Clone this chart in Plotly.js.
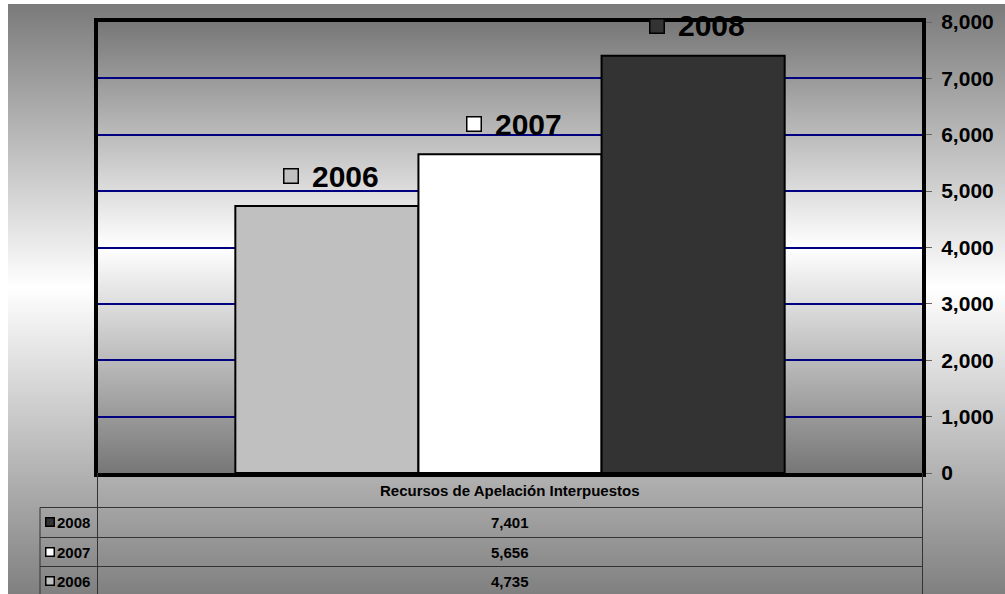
<!DOCTYPE html>
<html>
<head>
<meta charset="utf-8">
<script src="https://cdn.plot.ly/plotly-3.0.1.min.js"></script>
<style>
  html, body { margin:0; padding:0; background:#ffffff; }
  #bgOuter { position:absolute; left:8px; top:4px; width:997px; height:590px;
    background:linear-gradient(to bottom, #7a7a7a 0%, #ffffff 48%, #808080 100%); }
  #bgPlot { position:absolute; left:98px; top:22px; width:824px; height:451px;
    background:linear-gradient(to bottom, #777777 0%, #ffffff 50%, #777777 100%); }
  #chart { position:absolute; left:0; top:0; width:1005px; height:594px; }
</style>
</head>
<body>
<div id="bgOuter"></div>
<div id="bgPlot"></div>
<div id="chart"></div>
<script>
// ---- data ----
const categories = ['Recursos de Apelación Interpuestos'];
const seriesNames = ['2006', '2007', '2008'];
const values2006 = [4735];
const values2007 = [5656];
const values2008 = [7401];
const yTickValues = [0, 1000, 2000, 3000, 4000, 5000, 6000, 7000, 8000];

// ---- styles ----
const seriesValues = [values2006, values2007, values2008];
const seriesColors = ['#c0c0c0', '#ffffff', '#333333'];
const FONT = 'Liberation Sans, Arial, Helvetica, sans-serif';
const W = 1005, H = 594, M = {l: 98, r: 83, t: 22, b: 121};
const plotW = W - M.l - M.r, plotH = H - M.t - M.b;
const px2x = px => (px - M.l) / plotW;
const py2y = py => (H - M.b - py) / plotH;
const bargap = 1/3;

const traces = seriesNames.map((name, j) => ({
  type: 'bar',
  name: name,
  x: categories,
  y: seriesValues[j],
  marker: {color: seriesColors[j], line: {color: '#000000', width: 2}},
  hoverinfo: 'skip',
  showlegend: false
}));

const annotations = [];
const n = seriesNames.length;
const bw = (1 - bargap) / n;
seriesNames.forEach((name, j) => {
  const xc = 0 + (j - (n - 1) / 2) * bw;
  const yv = seriesValues[j][0];
  annotations.push({
    xref: 'x', yref: 'y', x: xc, y: yv, xshift: -36, yshift: 30,
    xanchor: 'center', yanchor: 'middle',
    text: ' ', showarrow: false, width: 13, height: 13,
    bgcolor: seriesColors[j], bordercolor: '#000000', borderwidth: 1.5, borderpad: 0,
    font: {size: 6}
  });
  annotations.push({
    xref: 'x', yref: 'y', x: xc, y: yv, xshift: -17, yshift: 30,
    xanchor: 'left', yanchor: 'middle',
    text: name, showarrow: false,
    font: {family: FONT, size: 30, weight: 'bold', color: '#000000'}
  });
});

// table header (category)
annotations.push({
  xref: 'paper', yref: 'paper', x: 0.5, y: 0, yshift: -(490 - (H - M.b)),
  xanchor: 'center', yanchor: 'middle', showarrow: false,
  text: categories[0],
  font: {family: FONT, size: 15, weight: 'bold', color: '#000000'}
});

// table rows (reverse order)
const rowCenters = [522, 552, 581];
const rowOrder = [2, 1, 0];
rowOrder.forEach((j, r) => {
  const py = rowCenters[r];
  const ys = -(py - (H - M.b));
  annotations.push({
    xref: 'paper', yref: 'paper', x: 0, y: 0, xshift: 50 - M.l, yshift: ys,
    xanchor: 'center', yanchor: 'middle',
    text: ' ', showarrow: false, width: 7, height: 7,
    bgcolor: seriesColors[j], bordercolor: '#000000', borderwidth: 1.5, borderpad: 0,
    font: {size: 5}
  });
  annotations.push({
    xref: 'paper', yref: 'paper', x: 0, y: 0, xshift: 55 - M.l, yshift: ys,
    xanchor: 'left', yanchor: 'middle', showarrow: false,
    text: seriesNames[j],
    font: {family: FONT, size: 15, weight: 'bold', color: '#000000'}
  });
  annotations.push({
    xref: 'paper', yref: 'paper', x: 0.5, y: 0, yshift: ys,
    xanchor: 'center', yanchor: 'middle', showarrow: false,
    text: seriesValues[j][0].toLocaleString('en-US'),
    font: {family: FONT, size: 15, weight: 'bold', color: '#000000'}
  });
});

const lineStyle = {color: '#333333', width: 1};
const hLine = (py, px0, px1) => ({type: 'line', xref: 'paper', yref: 'paper',
  x0: px2x(px0), x1: px2x(px1), y0: py2y(py), y1: py2y(py), line: lineStyle});
const vLine = (px, py0, py1) => ({type: 'line', xref: 'paper', yref: 'paper',
  x0: px2x(px), x1: px2x(px), y0: py2y(py0), y1: py2y(py1), line: lineStyle});
const shapes = [
  hLine(507.5, 40, 922.5), hLine(537.5, 40, 922.5), hLine(566.5, 40, 922.5),
  vLine(40, 507.5, 594), vLine(97.5, 473, 594), vLine(922.5, 473, 594)
];

const layout = {
  width: W, height: H,
  margin: M,
  paper_bgcolor: 'rgba(0,0,0,0)',
  plot_bgcolor: 'rgba(0,0,0,0)',
  barmode: 'group', bargap: bargap, bargroupgap: 0,
  showlegend: false,
  xaxis: {
    type: 'category', showticklabels: false, ticks: '',
    showline: true, mirror: true, linecolor: '#000000', linewidth: 4,
    showgrid: false, zeroline: false, fixedrange: true
  },
  yaxis: {
    side: 'right', range: [0, 8000], tickvals: yTickValues, tickformat: ',d',
    showline: true, mirror: true, linecolor: '#000000', linewidth: 4,
    ticks: 'outside', ticklen: 6, tickwidth: 1, tickcolor: '#666666',
    ticklabelstandoff: 5,
    showgrid: true, gridcolor: '#000080', gridwidth: 2, zeroline: false,
    tickfont: {family: FONT, size: 21, weight: 'bold', color: '#000000'},
    fixedrange: true
  },
  annotations: annotations,
  shapes: shapes
};

Plotly.newPlot('chart', traces, layout, {displayModeBar: false, staticPlot: true});
</script>
</body>
</html>
